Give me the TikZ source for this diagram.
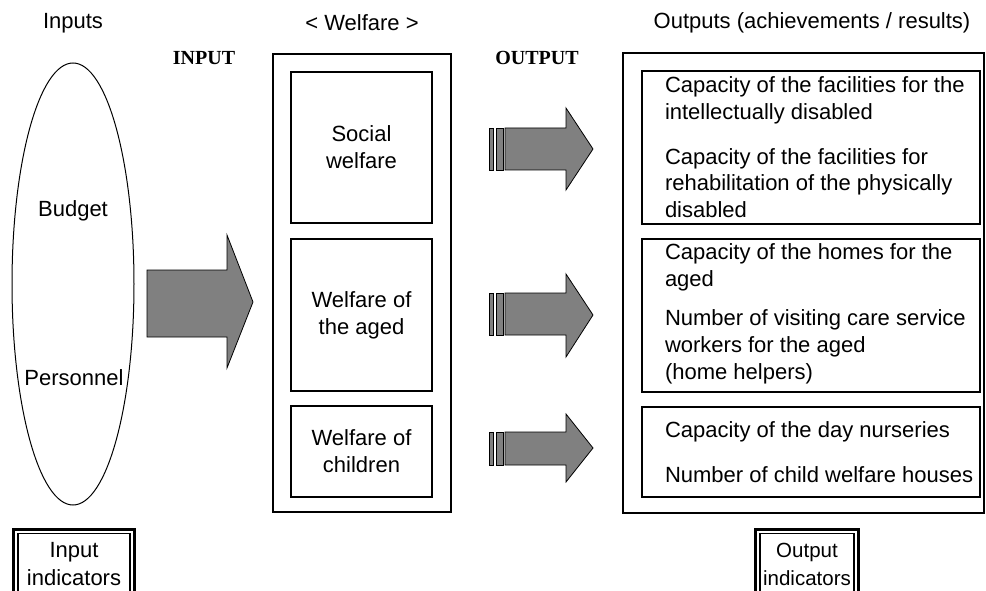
\documentclass[tikz,border=0pt]{standalone}
\usepackage{fontspec}
\setmainfont{Liberation Sans}
\newfontfamily\timesfont{Liberation Serif}
\usetikzlibrary{shapes.geometric}
\definecolor{arrowgray}{RGB}{128,128,128}
\begin{document}
\begin{tikzpicture}[x=1pt,y=-1pt,
  every node/.style={font=\fontsize{22}{27}\selectfont, inner sep=0pt, outer sep=0pt},
  heading/.style={font=\timesfont\bfseries\fontsize{20}{24}\selectfont},
  outerbox/.style={draw, line width=2.4pt},
  innerbox/.style={draw, line width=2pt, align=center},
  outtext/.style={anchor=base west, align=left},
  blockarrow/.style={draw, fill=arrowgray, line width=0.8pt, line join=miter},
  thickframe/.style={draw, line width=3pt},
  thinframe/.style={draw, line width=1.1pt}
]
\useasboundingbox (0,0) rectangle (986,591);
\clip (0,0) rectangle (986,591);

% headings
\node (inlab) at (73,23) {Inputs};
\node (wlab) at (362,23) {< Welfare >};
\node (outlab) at (812,23) {Outputs (achievements / results)};
\node[heading] (inputh) at (204,58) {INPUT};
\node[heading] (outputh) at (537,58) {OUTPUT};

% inputs ellipse
\node[draw, ellipse, line width=1pt, minimum width=122pt, minimum height=442pt] (ell) at (73,284) {};
\node (budget) at (73,211) {Budget};
\node (personnel) at (74,378) {Personnel};

% big arrow
\coordinate (ba) at (147,270);
\draw[blockarrow] (ba) -- (227,270) -- (227,235) -- (253,302) -- (227,368) -- (227,337) -- (147,337) -- cycle;

% welfare column
\node[outerbox, minimum width=178pt, minimum height=458pt] (wcol) at (362,283) {};
\node[innerbox, minimum width=141pt, minimum height=151pt] (w1) at (361.5,147.5) {Social\\welfare};
\node[innerbox, minimum width=141pt, minimum height=152pt] (w2) at (361.5,315) {Welfare of\\the aged};
\node[innerbox, minimum width=141pt, minimum height=91pt] (w3) at (361.5,451.5) {Welfare of\\children};

% small arrows
\foreach \st/\sb/\ht/\hb/\ty in {128/170/108/190/149, 293/335/274/357/315, 432/465/414/482/448}{
  \draw[blockarrow] (489,\st) rectangle (493,\sb);
  \draw[blockarrow] (496,\st) rectangle (503,\sb);
  \draw[blockarrow] (505,\st) -- (566,\st) -- (566,\ht) -- (593,\ty) -- (566,\hb) -- (566,\sb) -- (505,\sb) -- cycle;
}

% outputs column
\node[outerbox, minimum width=361pt, minimum height=460pt] (ocol) at (803.5,283) {};
\node[innerbox, minimum width=338pt, minimum height=153pt] (o1) at (811,147.5) {};
\node[innerbox, minimum width=338pt, minimum height=153pt] (o2) at (811,315.5) {};
\node[innerbox, minimum width=338pt, minimum height=90pt] (o3) at (811,452) {};

% (base anchor of a multi-line node is the baseline of its last line)
\node[outtext] (t11) at (665,120) {Capacity of the facilities for the\\intellectually disabled};
\node[outtext] (t12) at (665,218) {Capacity of the facilities for\\rehabilitation of the physically\\disabled};
\node[outtext] (t21) at (665,286) {Capacity of the homes for the\\aged};
\node[outtext] (t22) at (665,379) {Number of visiting care service\\workers for the aged\\ (home helpers)};
\node[outtext] (t31) at (665,437) {Capacity of the day nurseries};
\node[outtext] (t32) at (665,482) {Number of child welfare houses};

% indicator boxes
\draw[thickframe] (13.5,620) -- (13.5,529.5) -- (134.5,529.5) -- (134.5,620);
\draw[thinframe] (18,620) -- (18,533.5) -- (130,533.5) -- (130,620);
\node[align=center, font=\fontsize{22}{28}\selectfont] (inind) at (74,564) {Input\\indicators};

\draw[thickframe] (755.5,620) -- (755.5,529.5) -- (858.5,529.5) -- (858.5,620);
\draw[thinframe] (760,620) -- (760,533.5) -- (854,533.5) -- (854,620);
\node[align=center, font=\fontsize{20.5}{28}\selectfont] (outind) at (807,564) {Output\\indicators};
\end{tikzpicture}
\end{document}
